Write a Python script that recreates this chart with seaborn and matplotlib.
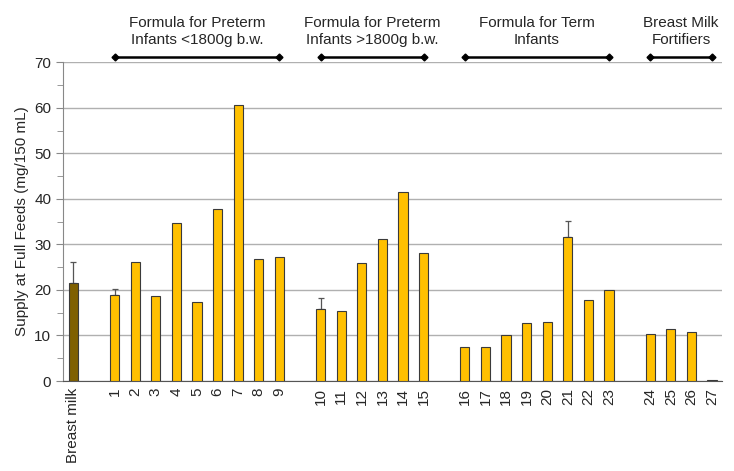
import numpy as np
import pandas as pd
import seaborn as sns
import matplotlib.pyplot as plt
from matplotlib.ticker import MultipleLocator

# bar labels (blank slots separate the groups)
labels = ['Breast milk', ' ',
          '1', '2', '3', '4', '5', '6', '7', '8', '9', '  ',
          '10', '11', '12', '13', '14', '15', '   ',
          '16', '17', '18', '19', '20', '21', '22', '23', '    ',
          '24', '25', '26', '27']
values = [21.5, np.nan,
          18.9, 26.1, 18.6, 34.7, 17.3, 37.7, 60.7, 26.8, 27.2, np.nan,
          15.9, 15.4, 26.0, 31.1, 41.6, 28.2, np.nan,
          7.4, 7.4, 10.2, 12.7, 12.9, 31.6, 17.8, 20.0, np.nan,
          10.4, 11.4, 10.8, 0.3]
# upper error bars (label -> error)
err_labels = ['Breast milk', '1', '10', '21']
err_values = [4.6, 1.3, 2.4, 3.5]

# group brackets above the plot
group_names = ['Formula for Preterm\nInfants <1800g b.w.',
               'Formula for Preterm\nInfants >1800g b.w.',
               'Formula for Term\nInfants',
               'Breast Milk\nFortifiers']
group_first = ['1', '10', '16', '24']
group_last = ['9', '15', '23', '27']

df = pd.DataFrame({'label': labels, 'value': values})
colors = ['#7F6000' if l == 'Breast milk' else '#FFC000' for l in labels]

sns.set_style('white')
plt.rcParams['font.family'] = ['Liberation Sans Narrow', 'Liberation Sans', 'DejaVu Sans']

fig = plt.figure(figsize=(7.34, 4.71), dpi=100)
ax = fig.add_axes([0.086, 0.191, 0.898, 0.677])

sns.barplot(data=df, x='label', y='value', hue='label', order=labels,
            hue_order=labels, palette=colors, saturation=1, legend=False,
            width=0.45, edgecolor='#3a3a3a', linewidth=0.8, ax=ax, zorder=3)

# error bars, upper side only
pos = {l: i for i, l in enumerate(labels)}
for l, e in zip(err_labels, err_values):
    v = values[pos[l]]
    ax.errorbar(pos[l], v, yerr=[[0], [e]], fmt='none', ecolor='#555555',
                elinewidth=0.9, capsize=2.5, capthick=0.9, zorder=2)

ax.set_xlim(-0.5, len(labels) - 0.5)
ax.set_ylim(0, 70)
ax.yaxis.set_major_locator(MultipleLocator(10))
ax.yaxis.set_minor_locator(MultipleLocator(5))
ax.grid(axis='y', which='major', color='#b0b0b0', linewidth=1, zorder=0)
ax.set_axisbelow(True)

ax.set_xticks(range(len(labels)))
ax.set_xticklabels(labels, rotation=90, fontsize=11)
ax.set_xticks(np.arange(-0.5, len(labels)), minor=True)
ax.tick_params(axis='x', which='major', length=0, pad=5)
ax.tick_params(axis='x', which='minor', length=5, color='#555555', width=1)
ax.tick_params(axis='y', which='major', length=5, color='#888888', labelsize=11, left=True)
ax.tick_params(axis='y', which='minor', length=4, color='#888888', left=True)

for s in ['top', 'right']:
    ax.spines[s].set_visible(False)
ax.spines['left'].set_color('#888888')
ax.spines['bottom'].set_color('#555555')

ax.set_xlabel('')
ax.set_ylabel('Supply at Full Feeds (mg/150 mL)', fontsize=11)

for name, a, b in zip(group_names, group_first, group_last):
    x0, x1 = pos[a], pos[b]
    ax.plot([x0, x1], [71.1, 71.1], color='black', lw=1.8, marker='D',
            markersize=3.5, clip_on=False)
    ax.text((x0 + x1) / 2, 73.3, name, ha='center', va='bottom', fontsize=11,
            linespacing=1.25)

fig.savefig('out.png', dpi=100)
